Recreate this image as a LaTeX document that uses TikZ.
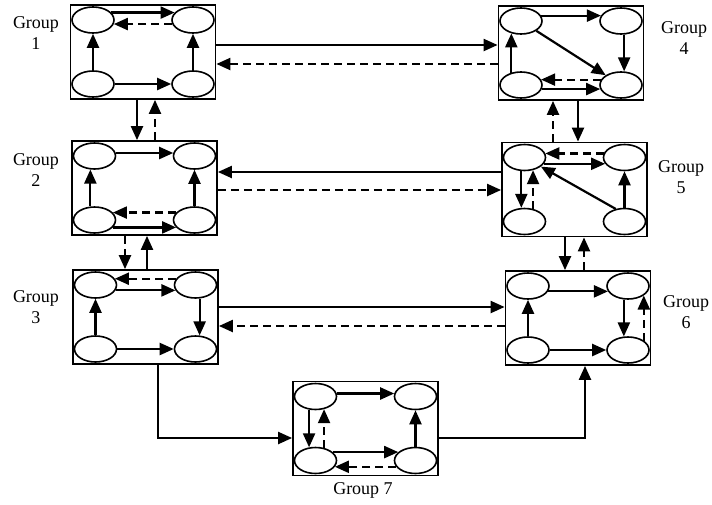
\documentclass[tikz,border=0pt]{standalone}
\usepackage{fontspec}
\setmainfont{Liberation Serif}
\usetikzlibrary{arrows.meta,shapes.geometric}

\tikzset{
  grp/.style={draw, line width=1.8pt, minimum width=145pt, minimum height=94pt, inner sep=0pt},
  cell/.style={draw, ellipse, line width=1.6pt, minimum width=42pt, minimum height=26pt, inner sep=0pt},
  link/.style={line width=2.2pt, -{Triangle[length=14pt,width=12pt]}},
  back/.style={link, dash pattern=on 8pt off 5pt},
  tag/.style={align=center, font=\fontsize{18}{20.5}\selectfont}
}

\begin{document}
\begin{tikzpicture}[x=1pt,y=-1pt]
\useasboundingbox (0,0) rectangle (712,504);

\foreach \g/\x/\y in {1/143/52,2/144.5/188,3/145.5/317,4/571/53,5/574.5/189.5,6/578/318,7/365.5/428.5} {
  \node[grp] (g\g) at (\x,\y) {};
  \node[cell] (g\g tl) at (\x-50,\y-32) {};
  \node[cell] (g\g tr) at (\x+50,\y-32) {};
  \node[cell] (g\g bl) at (\x-50,\y+32) {};
  \node[cell] (g\g br) at (\x+50,\y+32) {};
}

\node[tag] (t1) at (36,33) {Group\\1};
\node[tag] (t2) at (36,170) {Group\\2};
\node[tag] (t3) at (36,307) {Group\\3};
\node[tag] (t4) at (684,38) {Group\\4};
\node[tag] (t5) at (681,177) {Group\\5};
\node[tag] (t6) at (686,312) {Group\\6};
\node[tag] (t7) at (363,490) {Group 7};

% inside the groups
\draw[link] (g1tl.22) -- (g1tr.158);
\draw[back] (g1tr.191) -- (g1tl.-11);
\draw[link] (g1bl) -- (g1tl);
\draw[link] (g1br) -- (g1tr);
\draw[link] (g1bl) -- (g1br);

\draw[link] (g2tl.8) -- (g2tr.172);
\draw[link] (g2bl.107) -- (g2tl.253);
\draw[link] (g2br) -- (g2tr);
\draw[back] (g2br.158) -- (g2bl.22);
\draw[link] (g2bl.-22) -- (g2br.202);

\draw[back] (g3tr.162) -- (g3tl.18);
\draw[link] (g3tl.-15) -- (g3tr.195);
\draw[link] (g3bl) -- (g3tl);
\draw[link] (g3tr.287) -- (g3br.73);
\draw[link] (g3bl) -- (g3br);

\draw[link] (g4tl.15) -- (g4tr.165);
\draw[link] (g4tr.283) -- (g4br.77);
\draw[link] (g4tl) -- (g4br);
\draw[back] (g4br.165) -- (g4bl.15);
\draw[link] (g4bl.-11) -- (g4br.191);
\draw[link] (g4bl.128) -- (g4tl.232);

\draw[back] (g5tr.169) -- (g5tl.11);
\draw[link] (g5tl.-18) -- (g5tr.198);
\draw[link] (g5tl.257) -- (g5bl.103);
\draw[back] (g5bl.56) -- (g5tl.304);
\draw[link] (g5br.125) -- (g5tl.-29);
\draw[link] (g5br) -- (g5tr);

\draw[link] (g6tl.-15) -- (g6tr.195);
\draw[link] (g6tr.253) -- (g6br.107);
\draw[back] (g6br.31) -- (g6tr.329);
\draw[link] (g6bl) -- (g6tl);
\draw[link] (g6bl) -- (g6br);

\draw[link] (g7tl.8) -- (g7tr.172);
\draw[link] (g7tl.244) -- (g7bl.116);
\draw[back] (g7bl.56) -- (g7tl.304);
\draw[link] (g7br) -- (g7tr);
\draw[link] (g7bl.26) -- (g7br.154);
\draw[back] (g7br.198) -- (g7bl.-18);

% between the groups
\draw[link] ([yshift=7pt]g1.east) -- ([yshift=7pt]g1.east -| g4.west);
\draw[back] ([yshift=-12pt]g1.east -| g4.west) -- ([yshift=-12pt]g1.east);
\draw[link] ([yshift=16pt]g2.east -| g5.west) -- ([yshift=16pt]g2.east);
\draw[back] ([yshift=-2pt]g2.east) -- ([yshift=-2pt]g2.east -| g5.west);
\draw[link] ([yshift=10pt]g3.east) -- ([yshift=10pt]g3.east -| g6.west);
\draw[back] ([yshift=-9pt]g3.east -| g6.west) -- ([yshift=-9pt]g3.east);

\draw[link] ([xshift=-6pt]g1.south) -- ([xshift=-6pt]g1.south |- g2.north);
\draw[back] ([xshift=12pt]g1.south |- g2.north) -- ([xshift=12pt]g1.south);
\draw[back] ([xshift=-19.5pt]g2.south) -- ([xshift=-19.5pt]g2.south |- g3.north);
\draw[link] ([xshift=2.5pt]g2.south |- g3.north) -- ([xshift=2.5pt]g2.south);
\draw[back] ([xshift=-18pt]g4.south |- g5.north) -- ([xshift=-18pt]g4.south);
\draw[link] ([xshift=7pt]g4.south) -- ([xshift=7pt]g4.south |- g5.north);
\draw[link] ([xshift=-9.5pt]g5.south) -- ([xshift=-9.5pt]g5.south |- g6.north);
\draw[back] ([xshift=9.5pt]g5.south |- g6.north) -- ([xshift=9.5pt]g5.south);

\draw[link] ([xshift=12.5pt]g3.south) |- ([yshift=-9.5pt]g7.west);
\draw[link] ([yshift=-9.5pt]g7.east) -| ([xshift=7pt]g6.south);
\end{tikzpicture}
\end{document}
